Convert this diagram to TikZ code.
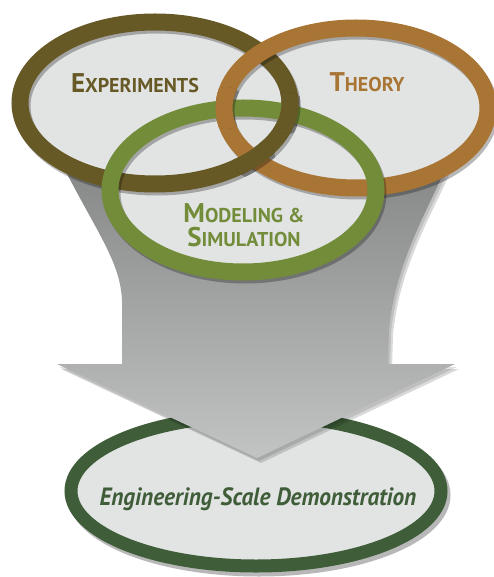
\documentclass[tikz,border=0pt]{standalone}
\usepackage{fontspec}
\setmainfont{PT Sans}
\definecolor{expc}{HTML}{675926}
\definecolor{theoc}{HTML}{A97535}
\definecolor{modc}{HTML}{728C3A}
\definecolor{engc}{HTML}{3E5D38}
\definecolor{fillc}{HTML}{E2E4E3}
\definecolor{arrtop}{HTML}{858787}
\definecolor{arrbot}{HTML}{C2C4C4}
\newcommand\myringE{(155,103) ellipse [x radius=135, y radius=81]}
\newcommand\myringT{(356,108) ellipse [x radius=132, y radius=80]}
\newcommand\myringM{(243,190) ellipse [x radius=133, y radius=82]}
\newcommand\myringB{(256,491) ellipse [x radius=185, y radius=75]}
\newcommand\myarrow{(60,160) .. controls (95,230) and (120,260) .. (122,300) -- (122,364) -- (57,364) -- (257,458) -- (455,364) -- (388,364) -- (389,330) .. controls (395,265) and (425,215) .. (445,170) -- cycle}
\newcommand\smc[2]{{\fontsize{27}{24}\selectfont #1}{\fontsize{20}{24}\selectfont #2}}
\tikzset{
  ringline/.style={line width=17},
  ringshadow/.style={black, opacity=.28, line width=17, shift={(2,3)}},
  lbl/.style={inner sep=0, anchor=base, font=\bfseries},
}
\begin{document}
\begin{tikzpicture}[x=1pt,y=-1pt]
\useasboundingbox (0,0) rectangle (493,577);
% bottom ellipse
\draw[black, opacity=.28, line width=13, shift={(3,4)}] \myringB;
\draw[engc, line width=13, fill=fillc] \myringB;
% arrow
\fill[black, opacity=.15, shift={(4,5)}] \myarrow;
\fill[black, opacity=.12, shift={(2,3)}] \myarrow;
\shade[top color=arrtop, bottom color=arrbot] \myarrow;
% fills
\fill[fillc] \myringE;
\fill[fillc] \myringT;
\fill[fillc] \myringM;
% rings
\draw[ringshadow] \myringE;
\draw[ringline, expc] \myringE;
\draw[ringshadow] \myringT;
\draw[ringline, theoc] \myringT;
\draw[ringshadow] \myringM;
\draw[ringline, modc] \myringM;
% interlacing
\begin{scope}
  \clip (254,158) circle (21);
  \draw[ringshadow] \myringE;
  \draw[ringline, expc] \myringE;
\end{scope}
\begin{scope}
  \clip (287,113) circle (21);
  \draw[ringshadow] \myringE;
  \draw[ringline, expc] \myringE;
\end{scope}
\begin{scope}
  \clip (226,108) circle (21);
  \draw[ringshadow] \myringT;
  \draw[ringline, theoc] \myringT;
\end{scope}
% labels
\node[lbl, text=expc] (exp) at (135,93) {\smc{E}{XPERIMENTS}};
\node[lbl, text=theoc] (theo) at (367,92) {\smc{T}{HEORY}};
\node[inner sep=0, align=center, text=modc, font=\bfseries\fontsize{20}{24}\selectfont] (mod) at (244,225) {\smc{M}{ODELING \&}\\\smc{S}{IMULATION}};
\node[lbl, text=engc, font=\bfseries\itshape\fontsize{25}{25}\selectfont] (eng) at (258,505) {\scalebox{0.93}[1]{Engineering-Scale Demonstration}};
\end{tikzpicture}
\end{document}
